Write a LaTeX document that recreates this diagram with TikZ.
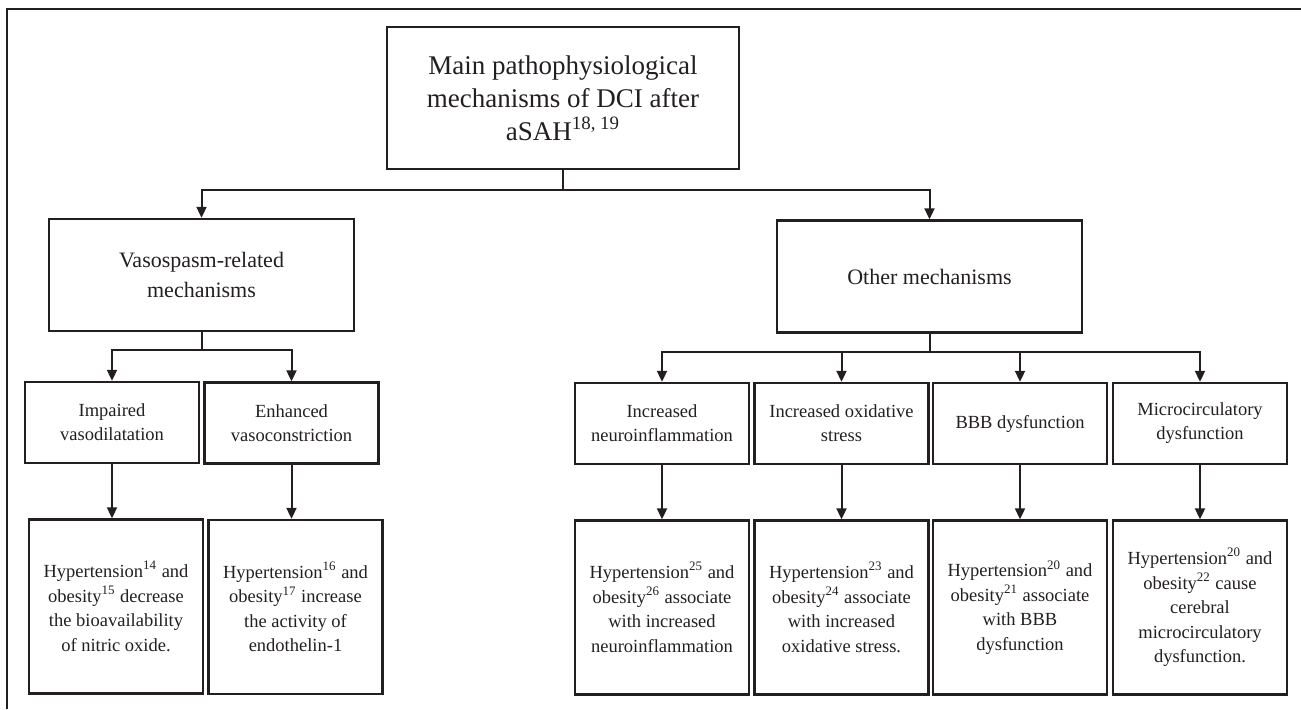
\documentclass[tikz,border=0pt]{standalone}
\usepackage{fontspec}
\setmainfont{Liberation Serif}
\usetikzlibrary{arrows.meta}
\definecolor{ink}{HTML}{231F20}
\begin{document}
\begin{tikzpicture}[x=0.5pt,y=-0.5pt,
  box/.style={draw=ink,line width=1.2pt,align=center,inner sep=0pt,text=ink},
  topbox/.style={box,minimum width=176pt,minimum height=71pt,font=\fontsize{13.5}{16.5}\selectfont},
  midbox/.style={box,minimum width=152.5pt,minimum height=56pt,font=\fontsize{11}{15}\selectfont},
  mechbox/.style={box,minimum width=87pt,minimum height=40.5pt,font=\fontsize{9.25}{12}\selectfont},
  riskbox/.style={box,minimum width=87pt,minimum height=87pt,font=\fontsize{9.25}{12.3}\selectfont},
  conn/.style={draw=ink,line width=1pt},
  arr/.style={conn,-{Triangle[width=5pt,length=5.5pt]}}]
\useasboundingbox (0,0) rectangle (1301,709);
\draw[ink,line width=1.1pt](7,709)--(7,9)--(1301,9);
%
\node[topbox](main) at (563,98) {Main pathophysiological\\mechanisms of DCI after\\aSAH\textsuperscript{18, 19}};
\node[midbox](vaso) at (201.5,275) {Vasospasm-related\\mechanisms};
\node[midbox](other) at (929.5,276.5) {Other mechanisms};
%
\node[mechbox](dilat) at (112,422.5) {Impaired\\vasodilatation};
\node[mechbox](constr) at (291.5,423) {Enhanced\\vasoconstriction};
\node[mechbox](inflam) at (662,423.5) {Increased\\neuroinflammation};
\node[mechbox](oxid) at (841.5,423.5) {Increased oxidative\\stress};
\node[mechbox](bbb) at (1020,423.5) {BBB dysfunction};
\node[mechbox](micro) at (1200,423.5) {Microcirculatory\\dysfunction};
%
\node[riskbox](nitric) at (116,606.5) {Hypertension\textsuperscript{14} and\\obesity\textsuperscript{15} decrease\\the bioavailability\\of nitric oxide.};
\node[riskbox](endo) at (295.5,607) {Hypertension\textsuperscript{16} and\\obesity\textsuperscript{17} increase\\the activity of\\endothelin-1};
\node[riskbox](inflamrisk) at (662,607.5) {Hypertension\textsuperscript{25} and\\obesity\textsuperscript{26} associate\\with increased\\neuroinflammation};
\node[riskbox](oxidrisk) at (841.5,607.5) {Hypertension\textsuperscript{23} and\\obesity\textsuperscript{24} associate\\with increased\\oxidative stress.};
\node[riskbox](bbbrisk) at (1020,607.5) {Hypertension\textsuperscript{20} and\\obesity\textsuperscript{21} associate\\with BBB\\dysfunction};
\node[riskbox](microrisk) at (1200,607.5) {Hypertension\textsuperscript{20} and\\obesity\textsuperscript{22} cause\\cerebral\\microcirculatory\\dysfunction.};
%
\coordinate(mainbus) at (563,190);
\coordinate(vasobus) at (201.5,350);
\coordinate(otherbus) at (929.5,352);
\draw[conn](main.south)--(mainbus);
\draw[arr](mainbus)-|(vaso.north);
\draw[arr](mainbus)-|(other.north);
\draw[conn](vaso.south)--(vasobus);
\draw[arr](vasobus)-|(dilat.north);
\draw[arr](vasobus)-|(constr.north);
\draw[conn](other.south)--(otherbus);
\draw[arr](otherbus)-|(inflam.north);
\draw[arr](otherbus)-|(oxid.north);
\draw[arr](otherbus)-|(bbb.north);
\draw[arr](otherbus)-|(micro.north);
%
\draw[arr](dilat.south)--(dilat.south|-nitric.north);
\draw[arr](constr.south)--(constr.south|-endo.north);
\draw[arr](inflam.south)--(inflamrisk.north);
\draw[arr](oxid.south)--(oxidrisk.north);
\draw[arr](bbb.south)--(bbbrisk.north);
\draw[arr](micro.south)--(microrisk.north);
\end{tikzpicture}
\end{document}
